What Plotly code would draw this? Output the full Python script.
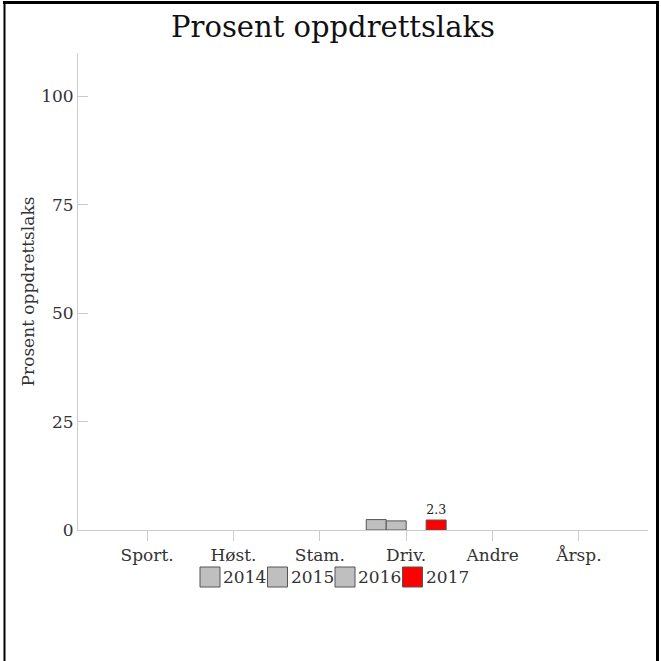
import plotly.graph_objects as go

categories = ["Sport.", "Høst.", "Stam.", "Driv.", "Andre", "Årsp."]
years = ["2014", "2015", "2016", "2017"]
values = {
    "2014": [None, None, None, 2.4, None, None],
    "2015": [None, None, None, 2.1, None, None],
    "2016": [None, None, None, None, None, None],
    "2017": [None, None, None, 2.3, None, None],
}
colors = {"2014": "#bfbfbf", "2015": "#bfbfbf", "2016": "#bfbfbf", "2017": "#ff0000"}
title_text = "Prosent oppdrettslaks"
y_title = "Prosent oppdrettslaks"
y_ticks = [0, 25, 50, 75, 100]

FONT = "DejaVu Serif"
W = H = 661
ML, MR, MT, MB = 78, 13, 53, 131
PW, PH = W - ML - MR, H - MT - MB

def px(x):
    return (x - ML) / PW

def py(y):
    return (H - MB - y) / PH

fig = go.Figure()
for yr in years:
    vals = values[yr]
    txt = [f"{v:g}" if (yr == "2017" and v) else "" for v in vals]
    fig.add_trace(go.Bar(
        x=categories, y=vals, name=yr,
        marker=dict(color=colors[yr], line=dict(color="#555555", width=1)),
        text=txt, textposition="outside", cliponaxis=False,
        textfont=dict(family=FONT, size=13, color="#222222"),
        showlegend=False,
    ))

shapes = []
annotations = []
# manual legend
leg_x0 = 200
for i, yr in enumerate(years):
    x0 = leg_x0 + i * 67.5
    shapes.append(dict(type="rect", xref="paper", yref="paper",
                       x0=px(x0), x1=px(x0 + 20), y0=py(587), y1=py(567),
                       fillcolor=colors[yr], line=dict(color="#555555", width=1)))
    annotations.append(dict(xref="paper", yref="paper", x=px(x0 + 21), y=py(577),
                            text=yr, showarrow=False, xanchor="left", yanchor="middle",
                            font=dict(family=FONT, size=17, color="#333333")))
# frame
shapes += [
    dict(type="line", xref="paper", yref="paper", x0=px(3), x1=px(659), y0=py(2.5), y1=py(2.5),
         line=dict(color="black", width=3)),
    dict(type="line", xref="paper", yref="paper", x0=px(4.5), x1=px(4.5), y0=py(2), y1=py(661),
         line=dict(color="black", width=2)),
    dict(type="line", xref="paper", yref="paper", x0=px(657.5), x1=px(657.5), y0=py(2), y1=py(661),
         line=dict(color="black", width=3)),
]

fig.update_layout(
    width=W, height=H,
    margin=dict(l=ML, r=MR, t=MT, b=MB, pad=0),
    paper_bgcolor="white", plot_bgcolor="white",
    barmode="group", bargap=0.075, bargroupgap=0,
    title=dict(text=title_text, x=333 / W, xref="container", xanchor="center",
               y=1 - 27 / H, yanchor="middle",
               font=dict(family=FONT, size=29, color="#111111")),
    font=dict(family=FONT, size=17, color="#333333"),
    xaxis=dict(range=[-0.8, 5.8], showline=True, linecolor="#cccccc", linewidth=1,
               ticks="outside", ticklen=10, tickcolor="#cccccc", showgrid=False,
               tickfont=dict(family=FONT, size=17, color="#333333"), zeroline=False),
    yaxis=dict(range=[0, 110], showline=True, linecolor="#cccccc", linewidth=1,
               ticks="inside", ticklen=10, tickcolor="#cccccc", showgrid=False,
               tickvals=y_ticks, zeroline=False,
               tickfont=dict(family=FONT, size=17, color="#333333"),
               title=dict(text=y_title, font=dict(family=FONT, size=17, color="#333333"),
                          standoff=2)),
    shapes=shapes, annotations=annotations,
    showlegend=False,
)

fig.write_html("out.html", config={"displayModeBar": False},
               post_script="document.body.style.margin='0';")
